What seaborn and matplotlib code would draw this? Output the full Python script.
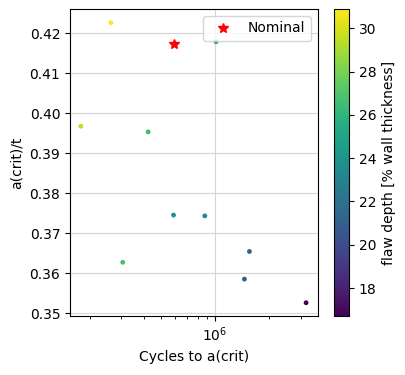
import numpy as np
import pandas as pd
import matplotlib
matplotlib.use("Agg")
import matplotlib.pyplot as plt
import seaborn as sns

# cases
cycles = [2.62e5, 1.78e5, 4.23e5, 3.05e5, 5.86e5, 8.76e5, 1.013e6, 1.555e6, 1.458e6, 3.22e6]
a_crit_t = [0.4226, 0.3967, 0.3953, 0.3627, 0.3745, 0.3743, 0.4178, 0.3654, 0.3585, 0.3526]
flaw_depth = [30.9, 29.5, 26.5, 26.7, 23.8, 23.3, 25.5, 21.3, 21.0, 16.7]
nominal_cycles = [5.91e5]
nominal_a = [0.41725]

df = pd.DataFrame({"cycles": cycles, "a": a_crit_t, "depth": flaw_depth})
norm = plt.Normalize(min(flaw_depth), max(flaw_depth))

fig = plt.figure(figsize=(4.05, 3.75), dpi=100)
ax = fig.add_axes([0.173, 0.157, 0.612, 0.819])
cax = fig.add_axes([0.825, 0.157, 0.037, 0.819])

sns.scatterplot(data=df, x="cycles", y="a", hue="depth", palette="viridis",
                hue_norm=norm, s=12, linewidth=0, legend=False, ax=ax, zorder=3)
ax.plot(nominal_cycles, nominal_a, "r*", markersize=7, label="Nominal", zorder=4)
ax.set_xscale("log")
ax.set_xlim(1.55e5, 3.75e6)
ax.set_ylim(0.34925, 0.426)
ax.grid(True, color="#d5d5d5", linewidth=0.8)
ax.set_axisbelow(True)
ax.set_xlabel("Cycles to a(crit)")
ax.set_ylabel("a(crit)/t")
ax.legend(loc="upper right")

sm = plt.cm.ScalarMappable(cmap="viridis", norm=norm)
cb = fig.colorbar(sm, cax=cax)
cb.set_label("flaw depth [% wall thickness]")

fig.savefig("out.png", dpi=100)
